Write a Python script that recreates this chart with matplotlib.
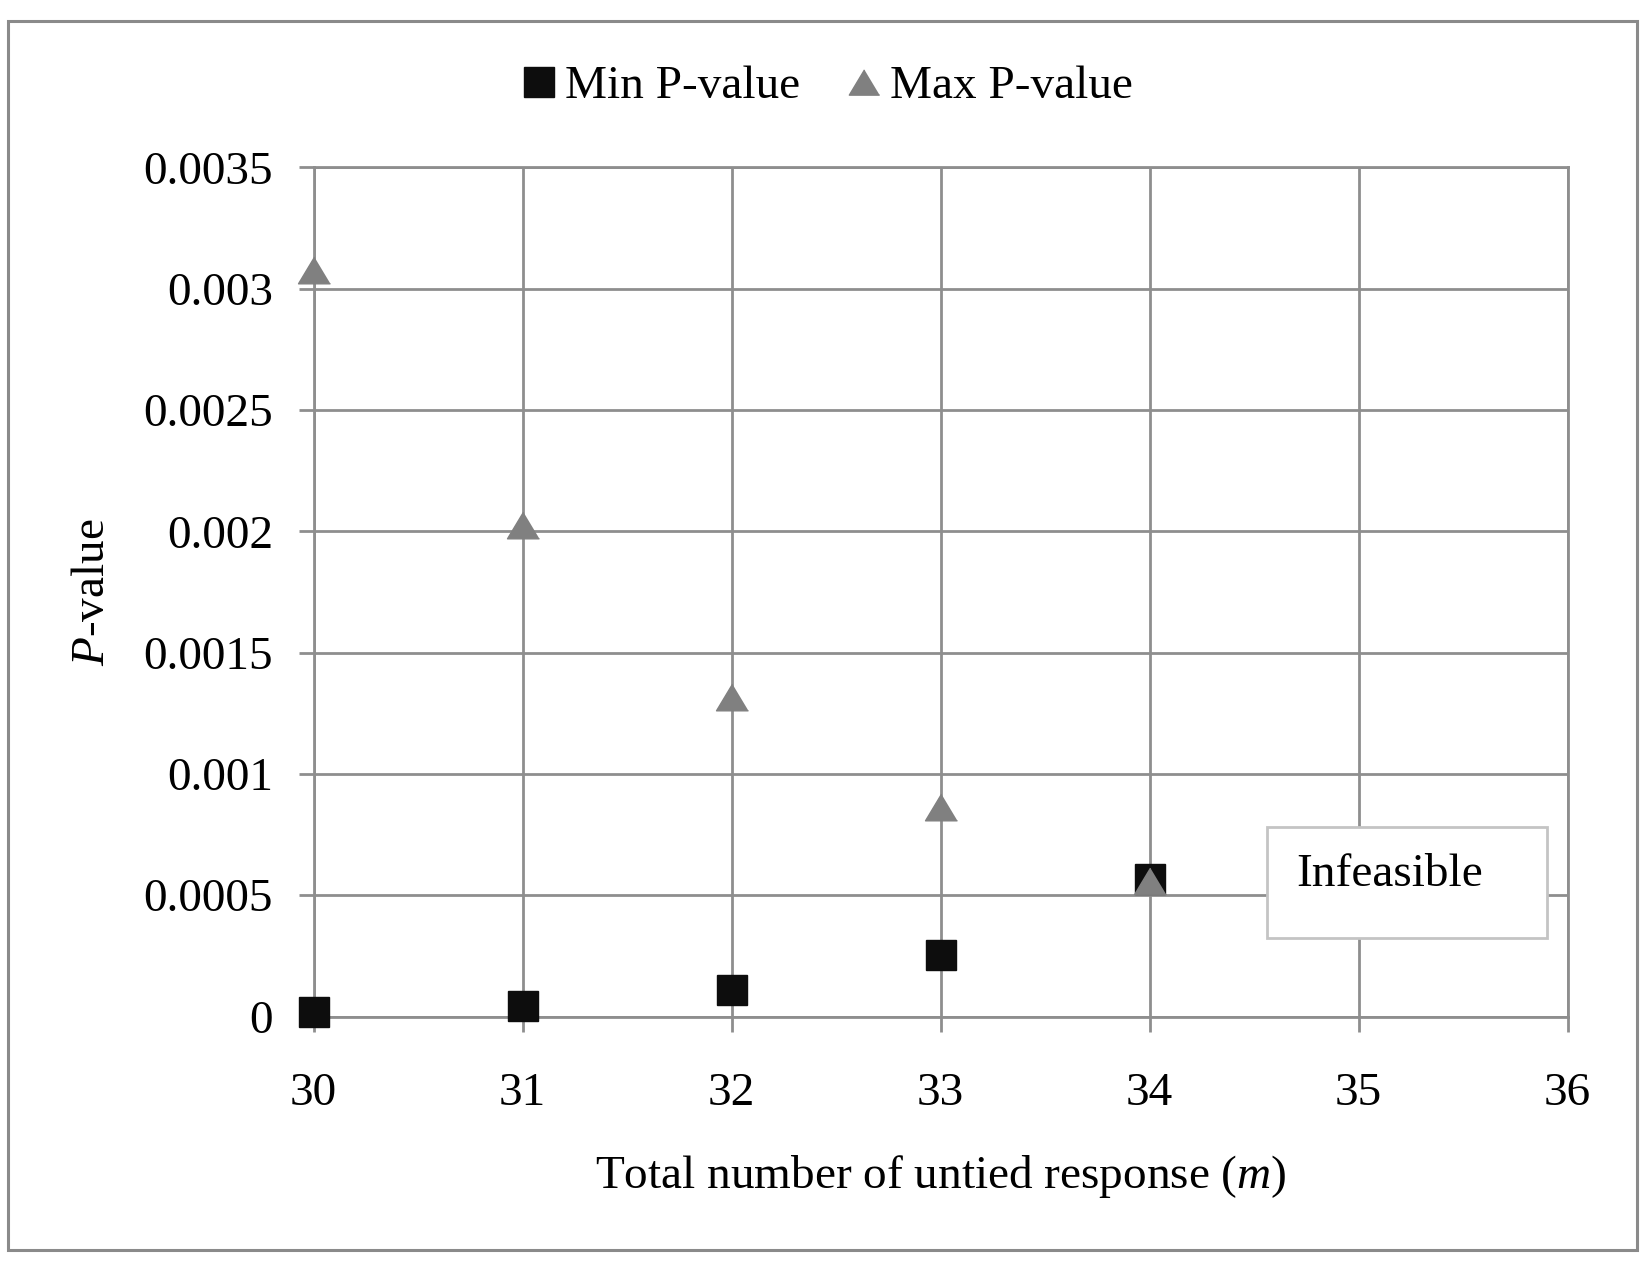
"""P-value 散点图: Min / Max P-value vs 未结响应总数 m."""
import matplotlib
matplotlib.use('Agg')
import matplotlib.pyplot as plt
from matplotlib.patches import Rectangle

plt.rcParams['font.family'] = 'Liberation Serif'
plt.rcParams['mathtext.fontset'] = 'custom'
plt.rcParams['mathtext.rm'] = 'Liberation Serif'
plt.rcParams['mathtext.it'] = 'Liberation Serif:italic'
plt.rcParams['font.size'] = 34

# ---- 数据 ----
m_values = [30, 31, 32, 33, 34]
min_p = [0.000018, 0.000043, 0.000108, 0.000252, 0.000565]
max_p = [0.003075, 0.002025, 0.001318, 0.000863, 0.000558]
x_ticks = [30, 31, 32, 33, 34, 35, 36]
y_ticks = [0, 0.0005, 0.001, 0.0015, 0.002, 0.0025, 0.003, 0.0035]
y_tick_labels = ['0', '0.0005', '0.001', '0.0015', '0.002', '0.0025', '0.003', '0.0035']

GRID = '#8e8e8e'
tri = [(0, 1), (-1.2, -1), (1.2, -1)]

fig = plt.figure(figsize=(16.5, 12.75), dpi=100)
ax = fig.add_axes([0.190, 0.2027, 0.760, 0.6661])

ax.plot(m_values, min_p, linestyle='none', marker='s', ms=22,
        color='#0d0d0d', mec='#0d0d0d', label='Min P-value',
        clip_on=False, zorder=5)
ax.plot(m_values, max_p, linestyle='none', marker=tri, ms=23,
        color='#808080', mec='#808080', label='Max P-value',
        clip_on=False, zorder=6)

ax.set_xlim(30, 36)
ax.set_ylim(0, 0.0035)
ax.set_xticks(x_ticks)
ax.set_yticks(y_ticks)
ax.set_yticklabels(y_tick_labels)
ax.grid(True, color=GRID, linewidth=2.0)
ax.set_axisbelow(True)
for sp in ax.spines.values():
    sp.set_color(GRID)
    sp.set_linewidth(2.0)
ax.tick_params(axis='both', direction='out', length=10.5, width=2.0,
               color=GRID, labelsize=34)
ax.tick_params(axis='y', pad=18.5)
ax.tick_params(axis='x', pad=30)

ax.set_xlabel(r'Total number of untied response ($m$)', fontsize=34, labelpad=27)
ax.set_ylabel(r'$P$-value', fontsize=34, labelpad=21)

# Infeasible 框
ax.add_patch(Rectangle((34.56, 0.000324), 1.34, 0.000457, transform=ax.transData,
                       facecolor='white', edgecolor='#c4c4c4', linewidth=2.0,
                       zorder=7, clip_on=False))
ax.text(34.70, 0.000585, 'Infeasible', fontsize=34, ha='left', va='center', zorder=8)

leg = fig.legend(loc='center', bbox_to_anchor=(0.5, 0.932), ncol=2, frameon=False,
                 fontsize=34, handletextpad=0.1, columnspacing=0.9,
                 handlelength=0.9, markerscale=0.95)

# 外框
fig.patches.append(Rectangle((8 / 1650, 25 / 1275), 1629 / 1650, 1229 / 1275,
                             transform=fig.transFigure, fill=False,
                             edgecolor='#8a8a8a', linewidth=2.2))

plt.savefig('out.png', dpi=100)
plt.close()
